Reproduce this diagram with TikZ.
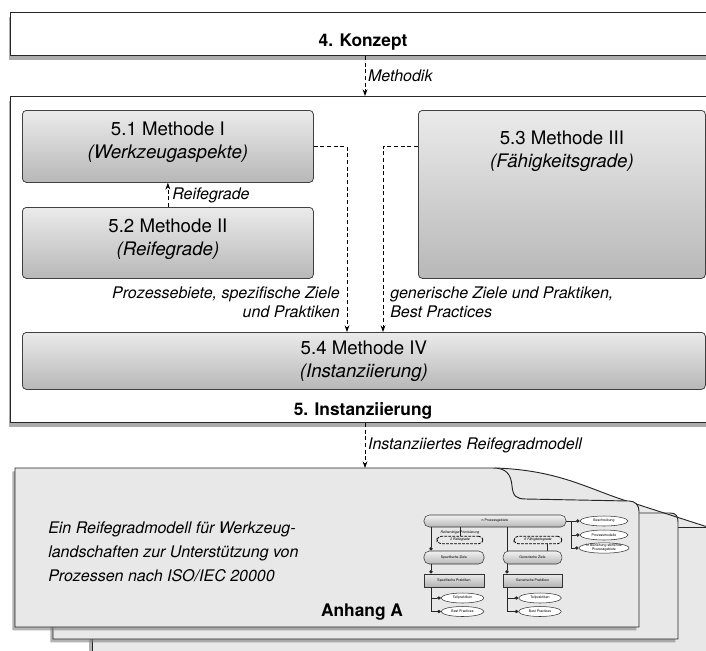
\documentclass[tikz,border=0pt]{standalone}
\usepackage{fontspec}
\setmainfont{TeX Gyre Heros}
\usetikzlibrary{arrows.meta, positioning, shadows, shapes.geometric}

\begin{document}
\begin{tikzpicture}[x=0.75pt,y=-0.75pt,
  frame/.style={rectangle,draw=black!85,fill=white,line width=0.8pt,inner sep=0pt,anchor=north west,drop shadow={shadow xshift=-1.5pt,shadow yshift=-3pt,opacity=0.65}},
  meth/.style={rectangle,draw=black!75,rounded corners=3pt,top color=black!8,bottom color=black!28,line width=0.6pt,inner sep=0pt,anchor=north west,align=center,font=\fontsize{14}{17.25}\selectfont},
  mtxt/.style={inner sep=0pt,align=center,font=\fontsize{14}{17.25}\selectfont},
  titel/.style={font=\fontsize{13}{15}\selectfont\bfseries,inner sep=0pt},
  lbl/.style={font=\fontsize{12}{14.25}\selectfont\itshape,inner sep=0pt},
  arr/.style={-{Stealth[length=5pt,width=3.6pt]},dash pattern=on 3pt off 2pt,line width=0.6pt},
  seite/.style={draw=black!85,fill=black!9,line width=0.7pt,drop shadow={shadow xshift=-2pt,shadow yshift=-2.5pt,opacity=0.6}},
  mbox/.style={rectangle,draw=black!80,line width=0.4pt,inner sep=0pt,font=\fontsize{2.6}{3}\selectfont,align=center},
  mpill/.style={mbox,rounded corners=4pt,top color=black!5,bottom color=black!28},
  mrect/.style={mbox,top color=black!8,bottom color=black!30},
  mell/.style={mbox,ellipse,fill=white},
  mdash/.style={mbox,rounded corners=3pt,draw=black,dash pattern=on 2pt off 1pt,line width=0.6pt,font=\fontsize{2.6}{3}\selectfont\itshape},
  mline/.style={line width=0.5pt,black!85},
  mtip/.style={mline,-{Diamond[length=3pt,width=2.6pt]}}]
  \useasboundingbox (0,0) rectangle (706,650);
  \coordinate (mx) at (365,0);
  \coordinate (d1) at (347,0);
  \coordinate (d2) at (383,0);

  % Kapitel 4 und 5
  \node[frame,minimum width=530.25pt,minimum height=32.25pt](konzept) at (10,12){};
  \node[titel](konzepttitel) at (363,42){4. Konzept};
  \node[frame,minimum width=530.25pt,minimum height=244.5pt](instanz) at (10,96){};
  \node[titel](instanztitel) at (363,411){5. Instanziierung};
  \draw[arr](konzept.south -| mx)--(instanz.north -| mx) node[lbl,midway,right=2pt]{Methodik};

  % Methoden
  \node[meth,minimum width=218.25pt,minimum height=54pt](m1) at (22,110){};
  \node[mtxt,below=9pt of m1.north](m1t){5.1 Methode I\\\textit{(Werkzeugaspekte)}};
  \node[meth,minimum width=218.25pt,minimum height=53.25pt](m2) at (22,207){};
  \node[mtxt,below=9pt of m2.north](m2t){5.2 Methode II\\\textit{(Reifegrade)}};
  \node[meth,minimum width=215.25pt,minimum height=126pt](m3) at (418,110){};
  \node[mtxt,below=15.5pt of m3.north](m3t){5.3 Methode III\\\textit{(Fähigkeitsgrade)}};
  \node[meth,minimum width=512.25pt,minimum height=42.75pt](m4) at (22,332){5.4 Methode IV\\\textit{(Instanziierung)}};

  \draw[arr](m2.north)--(m1.south) node[lbl,midway,right=3pt]{Reifegrade};
  \draw[arr](m1.east)-|(d1 |- m4.north);
  \draw[arr](m3.west |- m1.east)-|(d2 |- m4.north);
  \node[lbl,align=right,anchor=north east](l1) at (340,287){Prozessebiete, spezifische Ziele\\und Praktiken};
  \node[lbl,align=left,anchor=north west](l2) at (390,287){generische Ziele und Praktiken,\\Best Practices};

  % Anhang A
  \fill[black!9](495,468) .. controls (560,470) and (590,490) .. (630,502)--(720,531)--(720,665)--(450,665)--(450,468)--cycle;
  \draw[seite](92,665)--(92,527)--(720,527)--(720,665)--cycle;
  \draw[seite](53,639)--(53,513)--(670,513) .. controls (676,513) and (678,516) .. (678,522)--(678,639)--cycle;
  \draw[line width=0.7pt,black!85](495,468) .. controls (560,470) and (590,490) .. (630,502)--(720,531);
  \draw[seite](15,627)--(15,468)--(493,468) .. controls (506,468) and (511,474) .. (512,486) .. controls (513,496) and (516,499) .. (526,499)--(629,501) .. controls (635,501) and (639,505) .. (639,511)--(639,627)--cycle;
  \coordinate (seitetop) at (365,468);
  \draw[arr](instanz.south -| mx)--(seitetop) node[lbl,midway,right=2pt]{Instanziiertes Reifegradmodell};
  \node[font=\fontsize{12}{18}\selectfont\itshape,align=left,anchor=west,inner sep=0pt](modell) at (48,552){Ein Reifegradmodell für Werkzeug-\\landschaften zur Unterstützung von\\Prozessen nach ISO/IEC 20000};
  \node[titel](anhang) at (362,612){Anhang A};

  % Miniatur Reifegradmodell
  \coordinate (lx) at (431,0);
  \coordinate (rx) at (507,0);
  \coordinate (vx) at (571,0);
  \coordinate (fx) at (547,0);
  \node[mpill,minimum width=106.5pt,minimum height=9pt](np) at (495,521){n Prozessgebiete};
  \node[mell,minimum width=36pt,minimum height=7.5pt](e1) at (604,521){Beschreibung};
  \node[mell,minimum width=36pt,minimum height=7.5pt](e2) at (604,535){Prozessmodelle};
  \node[mell,minimum width=36pt,minimum height=7.5pt](e3) at (604,548){In Beziehung stehende\\Prozessgebiete};
  \node[mdash,minimum width=34.5pt,minimum height=5.5pt](rg) at (460,540){3 Reifegrade};
  \node[mdash,minimum width=36pt,minimum height=5.5pt](fg) at (538,540){6 Fähigkeitsgrade};
  \node[mpill,minimum width=45pt,minimum height=9.75pt](sz) at (454,557.5){Spezifische Ziele};
  \node[mpill,minimum width=44pt,minimum height=9.75pt](gz) at (532.5,557.5){Generische Ziele};
  \node[mrect,minimum width=45pt,minimum height=9.75pt](sp) at (454,580.5){Spezifische Praktiken};
  \node[mrect,minimum width=44pt,minimum height=9.75pt](gp) at (532.5,580.5){Generische Praktiken};
  \node[mell,minimum width=32pt,minimum height=7.5pt](tl) at (462.5,598){Teilpraktiken};
  \node[mell,minimum width=32pt,minimum height=7.5pt](bl) at (462.5,611.5){Best Practices};
  \node[mell,minimum width=32pt,minimum height=7.5pt](tr) at (540,598){Teilpraktiken};
  \node[mell,minimum width=32pt,minimum height=7.5pt](br) at (540,611.5){Best Practices};
  \draw[mline](np.south -| rg)--(rg.north);
  \node[mbox,draw=none,font=\fontsize{2.6}{3}\selectfont\itshape](rp) at (460,532.5){Reihenfolge/Priorisierung};
  \draw[mtip](np.south -| lx)--(sz.north -| lx);
  \draw[mline](np.south -| rx)--(gz.north -| rx);
  \draw[mline](fg.south -| fx)--(gz.north -| fx);
  \draw[mtip](sz.south -| lx)--(sp.north -| lx);
  \draw[mtip](gz.south -| rx)--(gp.north -| rx);
  \foreach \e in {tl,bl}{\draw[mtip](sp.south -| lx)|-(\e.west);}
  \foreach \e in {tr,br}{\draw[mtip](gp.south -| rx)|-(\e.west);}
  \draw[mtip](np.east)--(e1.west);
  \foreach \e in {e2,e3}{\draw[mtip](np.east -| vx)|-(\e.west);}
\end{tikzpicture}
\end{document}
